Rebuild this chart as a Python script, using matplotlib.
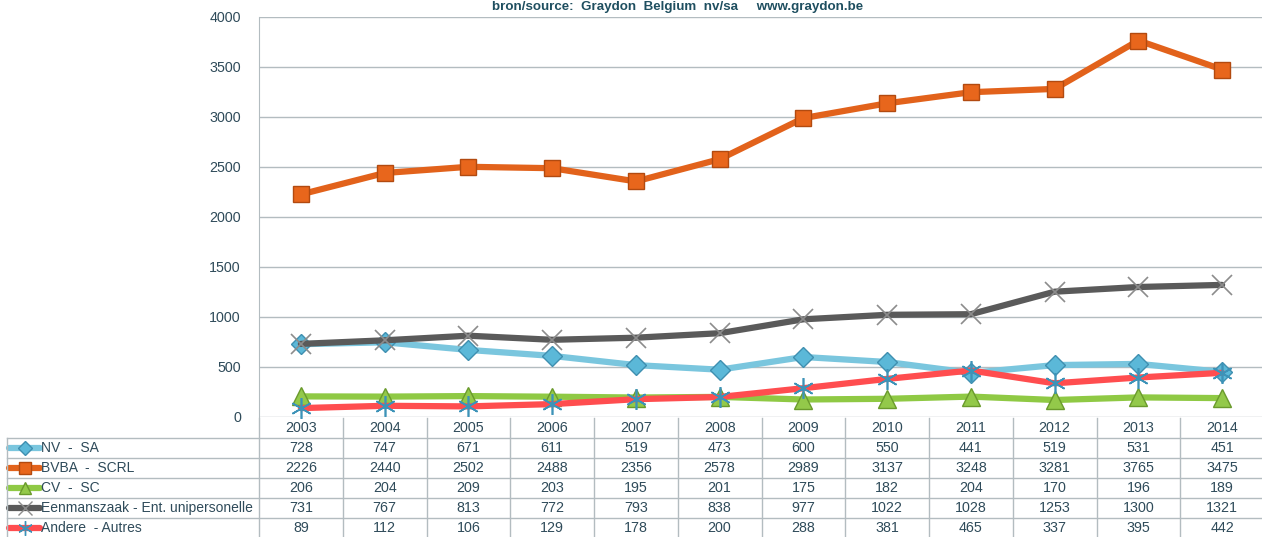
import matplotlib
matplotlib.use('Agg')
import matplotlib.pyplot as plt
import matplotlib.transforms as mtransforms
from matplotlib.lines import Line2D

plt.rcParams['font.family'] = ['Liberation Sans', 'DejaVu Sans']

years = ['2003', '2004', '2005', '2006', '2007', '2008', '2009', '2010', '2011', '2012', '2013', '2014']
names = ['NV  -  SA', 'BVBA  -  SCRL', 'CV  -  SC', 'Eenmanszaak - Ent. unipersonelle', 'Andere  - Autres']
nv_sa = [728, 747, 671, 611, 519, 473, 600, 550, 441, 519, 531, 451]
bvba = [2226, 2440, 2502, 2488, 2356, 2578, 2989, 3137, 3248, 3281, 3765, 3475]
cv_sc = [206, 204, 209, 203, 195, 201, 175, 182, 204, 170, 196, 189]
eenmans = [731, 767, 813, 772, 793, 838, 977, 1022, 1028, 1253, 1300, 1321]
andere = [89, 112, 106, 129, 178, 200, 288, 381, 465, 337, 395, 442]
series = [nv_sa, bvba, cv_sc, eenmans, andere]

# line colour, marker, marker face, marker edge, marker size
styles = [
    ('#7ac6de', 'D', '#5bb8d8', '#3f8fb0', 10),
    ('#e2621b', 's', '#e8661c', '#b24a10', 12),
    ('#8fc944', '^', '#93c94a', '#6a9a2c', 13),
    ('#5a5a5a', 'x', 'none', '#8c8c8c', 15),
    ('#ff4d4f', (6, 2, 0), 'none', '#3d93b8', 15),
]

W, H = 1262, 537
txt = '#2f4b5a'
gridc = '#b3bcc0'

fig = plt.figure(figsize=(W / 100, H / 100), dpi=100)
def fx(px):
    return px / W
def fy(py):
    return 1 - py / H

ax = fig.add_axes([fx(259), fy(417), fx(1264) - fx(259), (417 - 17) / H])
x = list(range(len(years)))
for vals, (lc, mk, mf, me, ms) in zip(series, styles):
    ax.plot(x, vals, color=lc, lw=4.5, solid_capstyle='round',
            marker=mk, markersize=ms, markerfacecolor=mf,
            markeredgecolor=me, markeredgewidth=1.0 if mf != 'none' else 1.2,
            clip_on=False)

ax.set_xlim(-0.5, len(years) - 0.5)
ax.set_ylim(0, 4000)
ax.set_yticks(range(0, 4001, 500))
ax.set_xticks([])
ax.grid(axis='y', color=gridc, lw=1)
ax.set_axisbelow(True)
for s in ['top', 'right', 'bottom']:
    ax.spines[s].set_visible(False)
ax.spines['left'].set_color(gridc)
ax.tick_params(axis='y', length=0, pad=13, labelsize=10.3, labelcolor=txt)

# title
fig.text(fx(678), fy(7), 'bron/source:  Graydon  Belgium  nv/sa     www.graydon.be',
         ha='center', va='center', fontsize=9.6, fontweight='bold', color='#1f4f60')

# data table under the plot
tr = mtransforms.blended_transform_factory(ax.transData, fig.transFigure)
row_top = [418, 438, 458, 478, 498, 518]
row_h = 20
for i, y in enumerate(years):
    fig.text(i, fy(row_top[0] + row_h / 2), y, transform=tr, ha='center', va='center',
             fontsize=10.3, color=txt)
for r, (nm, vals) in enumerate(zip(names, series)):
    yc = fy(row_top[r + 1] + row_h / 2)
    for i, v in enumerate(vals):
        fig.text(i, yc, str(v), transform=tr, ha='center', va='center', fontsize=10.3, color=txt)
    fig.text(fx(41), yc, nm, ha='left', va='center', fontsize=10, color=txt)
    lc, mk, mf, me, ms = styles[r]
    fig.add_artist(Line2D([fx(9), fx(40)], [yc, yc], color=lc, lw=4.5,
                          solid_capstyle='round'))
    fig.add_artist(Line2D([fx(24.5)], [yc], marker=mk, markersize=ms * 0.7,
                          markerfacecolor=mf, markeredgecolor=me, lw=0))

# table grid lines
for y in row_top[1:]:
    fig.add_artist(Line2D([fx(7), fx(1264)], [fy(y), fy(y)], color=gridc, lw=1))
fig.add_artist(Line2D([fx(7), fx(7)], [fy(438), fy(540)], color=gridc, lw=1))
for i in range(len(years)):
    fig.add_artist(Line2D([i - 0.5, i - 0.5], [fy(418), fy(540)], transform=tr,
                          color=gridc, lw=1))

fig.savefig('out.png', dpi=100)
